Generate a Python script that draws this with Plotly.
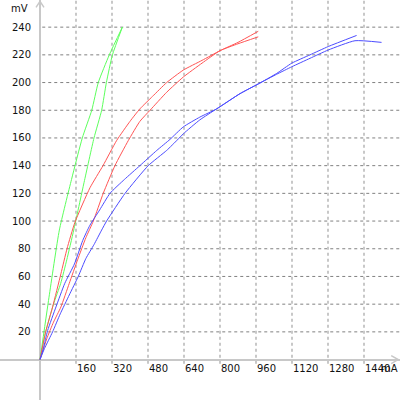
import plotly.graph_objects as go

# current (mA) vs voltage (mV), two sweeps per colour
green_a_ma = [0, 40, 86, 140, 188, 230, 259, 308, 366]
green_a_mv = [0, 45, 93.5, 130, 160, 180, 200, 220, 240]
green_b_ma = [0, 25, 60, 92, 119, 150, 196, 240, 274, 295, 322, 366]
green_b_mv = [0, 20, 40, 55, 72, 93.5, 128, 160, 180, 200, 220, 240]

red_a_ma = [0, 25, 56, 93, 120, 155, 222, 280, 340, 400, 444, 500, 563, 637, 720, 800, 880, 970]
red_a_mv = [0, 20, 38, 62, 80, 99, 124, 140, 158, 172, 181, 190, 200, 209, 216, 223, 229, 237]
red_b_ma = [0, 30, 60, 93, 130, 167, 204, 237, 281, 333, 392, 444, 489, 563, 637, 720, 800, 880, 970]
red_b_mv = [0, 15, 27, 38, 55, 72, 88, 100, 120, 140, 158, 172, 180, 193, 204, 214, 223, 228, 233]

blue_a_ma = [0, 15, 34, 71, 110, 153, 190, 222, 265, 311, 375, 444, 519, 578, 637, 710, 785,
             889, 970, 1052, 1119, 1200, 1281, 1407]
blue_a_mv = [0, 8, 21, 38, 55, 69, 86, 97, 108, 120, 130, 140, 151, 159, 168, 175, 181,
             192, 199, 206.6, 214, 220, 226, 234]
blue_b_ma = [0, 20, 56, 90, 130, 170, 204, 240, 274, 296, 378, 481, 563, 610, 637, 710, 785,
             889, 970, 1052, 1119, 1200, 1281, 1400, 1518]
blue_b_mv = [0, 8, 20, 33, 46.6, 60, 73, 83, 93.5, 100, 120, 140, 151, 158.5, 163, 173, 181,
             192, 199, 206, 211.4, 217.5, 223.5, 230.2, 229]

x_ticks = [160, 320, 480, 640, 800, 960, 1120, 1280, 1440]
y_ticks = [20, 40, 60, 80, 100, 120, 140, 160, 180, 200, 220, 240]

X_RANGE = [-177.8, 1600]
Y_RANGE = [-29.2, 259.6]
AXIS = "#c8c8c8"
FONT = dict(family="DejaVu Sans", size=10, color="#111111")

fig = go.Figure()
series = [
    (green_a_ma, green_a_mv, "#5cff5c"),
    (green_b_ma, green_b_mv, "#5cff5c"),
    (red_a_ma, red_a_mv, "#ff5555"),
    (red_b_ma, red_b_mv, "#ff5555"),
    (blue_a_ma, blue_a_mv, "#4c4cff"),
    (blue_b_ma, blue_b_mv, "#4c4cff"),
]
for xs, ys, col in series:
    fig.add_trace(go.Scatter(x=xs, y=ys, mode="lines",
                             line=dict(color=col, width=1, shape="spline", smoothing=0.5),
                             showlegend=False, hoverinfo="skip"))

shapes = []
for v in y_ticks:
    shapes.append(dict(type="line", x0=10, x1=X_RANGE[1], y0=v, y1=v, layer="below",
                       line=dict(color="#808080", width=1, dash="3px,3px")))
for v in x_ticks:
    shapes.append(dict(type="line", x0=v, x1=v, y0=-3, y1=Y_RANGE[1], layer="below",
                       line=dict(color=AXIS, width=2, dash="3px,3px")))
# arrow heads on the axes
shapes.append(dict(type="path", xsizemode="pixel", ysizemode="pixel", xanchor=0, yanchor=258.6,
                   path="M -4,-6 L 0,0 L 4,-6", line=dict(color=AXIS, width=1.5)))
shapes.append(dict(type="path", xsizemode="pixel", ysizemode="pixel", xanchor=1592, yanchor=0,
                   path="M -7,4 L 0,0 L -7,-4", line=dict(color=AXIS, width=1.5)))

annotations = []
for v in y_ticks:
    annotations.append(dict(x=0, y=v, text=str(v), showarrow=False, xanchor="right",
                            yanchor="middle", xshift=-7, font=FONT))
for v in x_ticks:
    annotations.append(dict(x=v, y=0, text=str(v), showarrow=False, xanchor="left",
                            yanchor="top", xshift=-1, yshift=-1, font=FONT))
annotations.append(dict(x=0, y=Y_RANGE[1], text="mV", showarrow=False, xanchor="right",
                        yanchor="top", xshift=-10, yshift=-1, font=FONT))
annotations.append(dict(x=X_RANGE[1], y=0, text="mA", showarrow=False, xanchor="right",
                        yanchor="top", yshift=-1, font=FONT))

fig.update_layout(
    width=400, height=400,
    margin=dict(l=0, r=0, t=0, b=0),
    paper_bgcolor="white", plot_bgcolor="white",
    shapes=shapes, annotations=annotations,
    xaxis=dict(range=X_RANGE, showgrid=False, showticklabels=False, ticks="",
               zeroline=True, zerolinecolor=AXIS, zerolinewidth=2, fixedrange=True),
    yaxis=dict(range=Y_RANGE, showgrid=False, showticklabels=False, ticks="",
               zeroline=True, zerolinecolor=AXIS, zerolinewidth=2, fixedrange=True),
)
fig.write_html("out.html", config={"displayModeBar": False},
               post_script="document.body.style.margin='0';")
